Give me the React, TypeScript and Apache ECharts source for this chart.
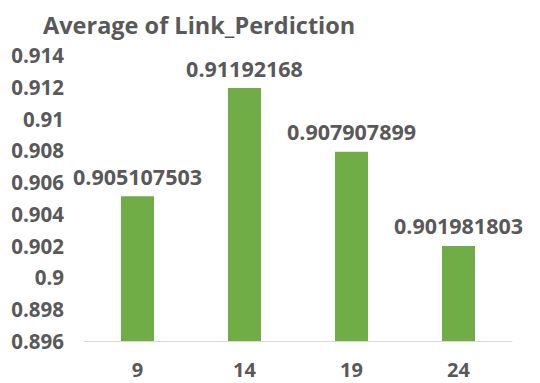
import React, { useEffect, useRef } from "react";
import * as echarts from "echarts";

const categories = ["9", "14", "19", "24"];
const values = [0.905107503, 0.91192168, 0.907907899, 0.901981803];
const labels = ["0.905107503", "0.91192168", "0.907907899", "0.901981803"];

const TEXT = "#595959";
const FONT = "'Open Sans', 'Noto Sans', sans-serif";

export default function App() {
  const ref = useRef<HTMLDivElement>(null);

  useEffect(() => {
    if (!ref.current) return;
    const chart = echarts.init(ref.current, null, { renderer: "svg" });
    chart.setOption({
      animation: false,
      backgroundColor: "#ffffff",
      title: {
        text: "Average of Link_Perdiction",
        left: 38,
        top: 8,
        textStyle: { color: TEXT, fontFamily: FONT, fontWeight: "bold", fontSize: 23.5 },
      },
      grid: { left: 84, right: 28, top: 55, bottom: 42 },
      xAxis: {
        type: "category",
        data: categories,
        axisLine: { lineStyle: { color: "#D9D9D9", width: 1 } },
        axisTick: { show: false },
        axisLabel: {
          color: TEXT,
          fontFamily: FONT,
          fontWeight: "bold",
          fontSize: 20,
          lineHeight: 20,
          margin: 18,
        },
      },
      yAxis: {
        type: "value",
        min: 0.896,
        max: 0.914,
        interval: 0.002,
        splitLine: { show: false },
        axisLine: { show: false },
        axisTick: { show: false },
        axisLabel: {
          color: TEXT,
          fontFamily: FONT,
          fontWeight: "bold",
          fontSize: 20.5,
          margin: 20,
          formatter: (v: number) => String(parseFloat(v.toFixed(3))),
        },
      },
      series: [
        {
          type: "bar",
          data: values,
          barWidth: 33,
          itemStyle: { color: "#70AD47" },
          label: {
            show: true,
            position: "top",
            distance: 9,
            color: TEXT,
            fontFamily: FONT,
            fontWeight: "bold",
            fontSize: 21.5,
            formatter: (p: any) => labels[p.dataIndex],
          },
        },
      ],
    });
    return () => chart.dispose();
  }, []);

  return (
    <div
      ref={ref}
      style={{ position: "absolute", left: 0, top: 0, width: 540, height: 383 }}
    />
  );
}
